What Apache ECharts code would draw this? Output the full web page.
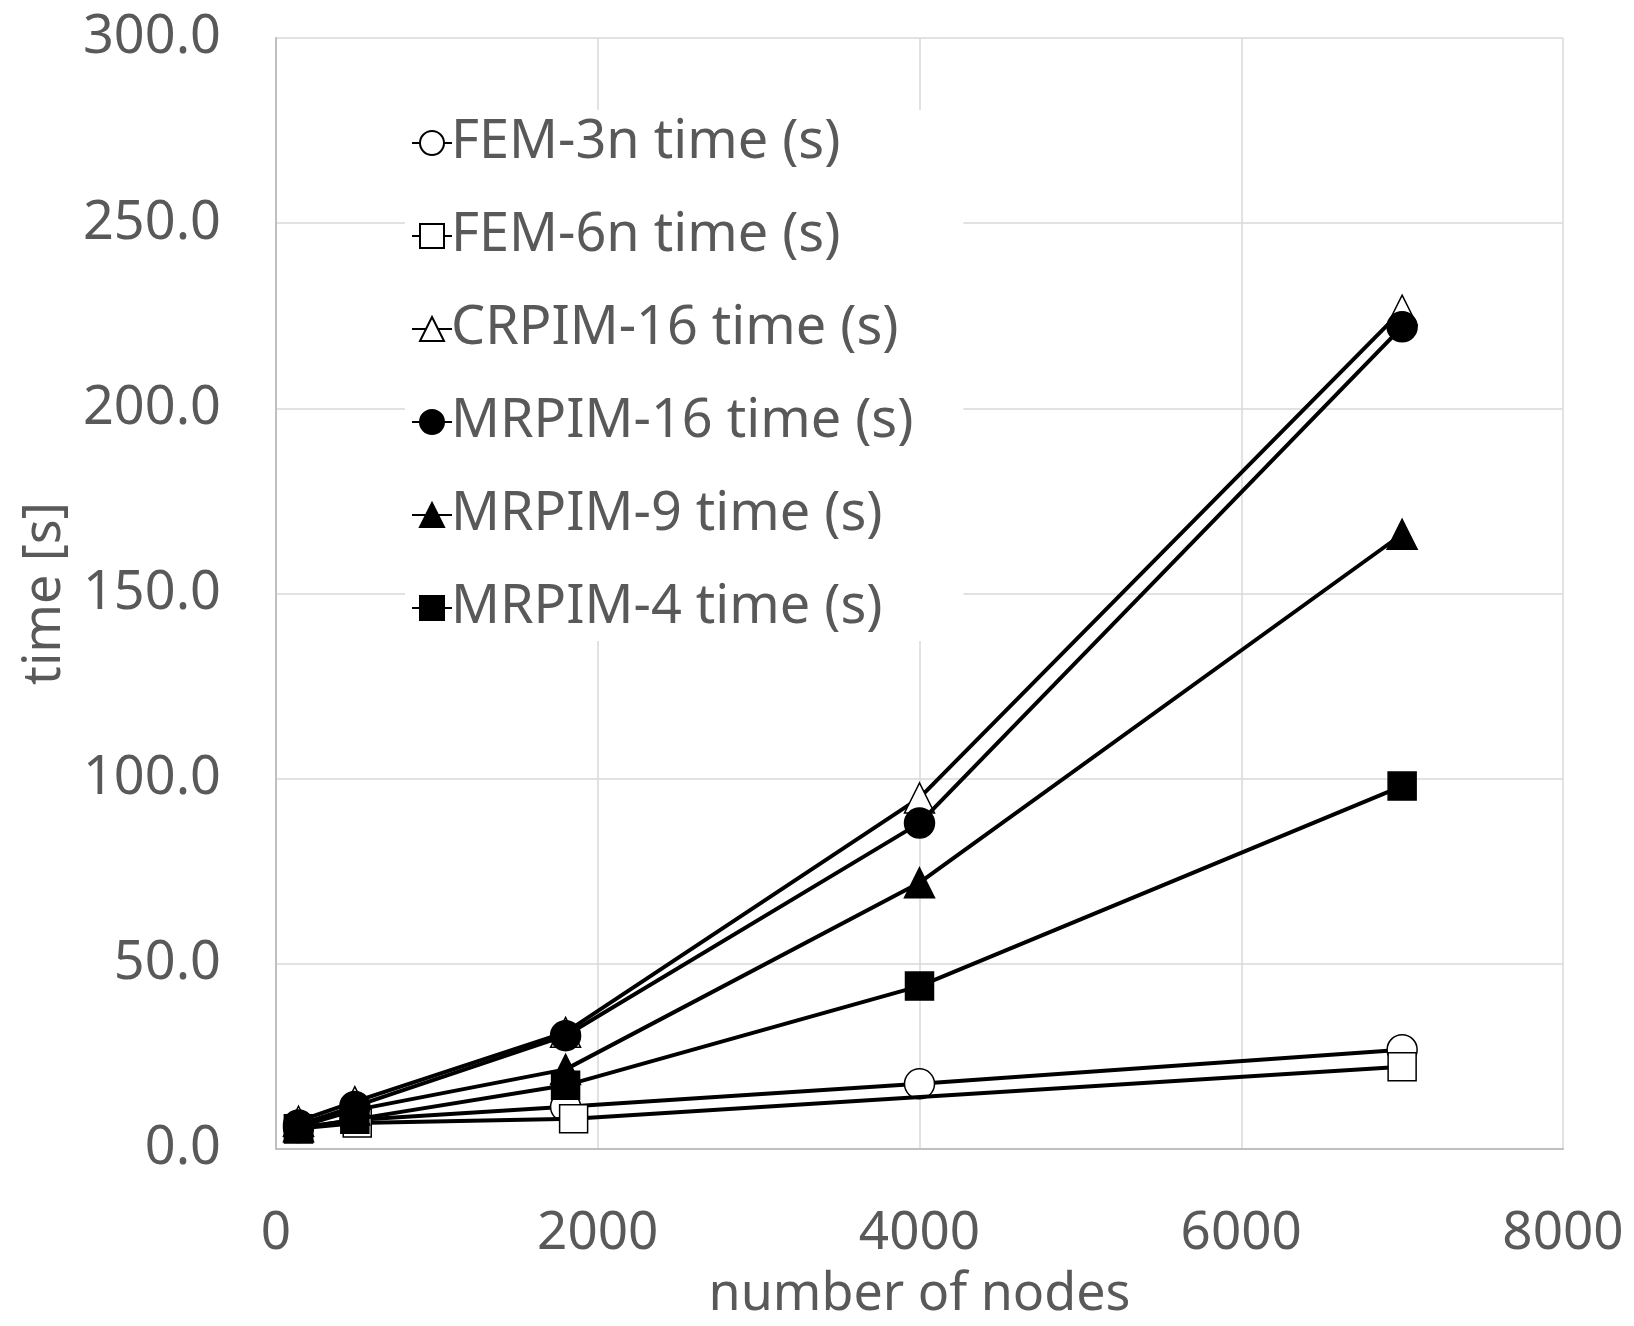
<!DOCTYPE html>
<html>
<head>
<meta charset="utf-8">
<script src="https://cdn.jsdelivr.net/npm/echarts@6/dist/echarts.min.js"></script>
<style>
html,body{margin:0;padding:0;background:#fff;}
#chart{width:1634px;height:1326px;}
</style>
</head>
<body>
<div id="chart"></div>
<script>
const seriesNames = ['FEM-3n time (s)','FEM-6n time (s)','CRPIM-16 time (s)','MRPIM-16 time (s)','MRPIM-9 time (s)','MRPIM-4 time (s)'];
const nodesMain = [140, 490, 1800, 4000, 7000];
const nodesFem6 = [140, 505, 1850, 7000];
const fem3n = [5.8, 7.8, 11.4, 17.6, 26.8];
const fem6n = [5.5, 7.0, 8.2, 22.2];
const crpim16 = [7.5, 12.8, 31.5, 94.8, 226.5];
const mrpim16 = [6.5, 11.5, 30.6, 88.0, 222.0];
const mrpim9 = [6.0, 10.5, 21.5, 71.9, 166.0];
const mrpim4 = [5.5, 8.0, 17.2, 44.0, 98.0];
const xTicks = [0, 2000, 4000, 6000, 8000];
const yTicks = [0, 50, 100, 150, 200, 250, 300];

const FONT = '"Noto Sans", "Open Sans", sans-serif';
const GRAY = '#595959';

function pairs(xs, ys){ return ys.map((v,i)=>[xs[i], v]); }

const styles = [
  {symbol:'circle', fill:'#ffffff', size:30},
  {symbol:'rect', fill:'#ffffff', size:28},
  {symbol:'triangle', fill:'#ffffff', size:30},
  {symbol:'circle', fill:'#000000', size:30},
  {symbol:'triangle', fill:'#000000', size:30},
  {symbol:'rect', fill:'#000000', size:28}
];
const datasets = [
  pairs(nodesMain, fem3n),
  pairs(nodesFem6, fem6n),
  pairs(nodesMain, crpim16),
  pairs(nodesMain, mrpim16),
  pairs(nodesMain, mrpim9),
  pairs(nodesMain, mrpim4)
];

const chart = echarts.init(document.getElementById('chart'));
chart.setOption({
  backgroundColor:'#ffffff',
  animation:false,
  grid:{left:276, right:71, top:38, bottom:169, containLabel:false},
  legend:{
    orient:'vertical', left:405, top:110,
    backgroundColor:'#ffffff',
    padding:[6,50,6,6],
    itemGap:39, itemWidth:40, itemHeight:30,
    textStyle:{fontSize:54, lineHeight:54, color:GRAY, fontFamily:FONT, padding:[0,0,0,-6]},
    data: seriesNames
  },
  xAxis:{
    type:'value', min:xTicks[0], max:xTicks[xTicks.length-1], interval:2000,
    name:'number of nodes', nameLocation:'middle', nameGap:120,
    nameTextStyle:{fontSize:52, color:GRAY, fontFamily:FONT},
    axisLine:{show:true, lineStyle:{color:'#bfbfbf', width:2}},
    axisTick:{show:false},
    axisLabel:{fontSize:53, color:GRAY, fontFamily:FONT, margin:58, formatter:v=>String(v)},
    splitLine:{show:true, lineStyle:{color:'#d9d9d9', width:1.5}}
  },
  yAxis:{
    type:'value', min:yTicks[0], max:yTicks[yTicks.length-1], interval:50,
    name:'time [s]', nameLocation:'middle', nameGap:205,
    nameTextStyle:{fontSize:52, color:GRAY, fontFamily:FONT},
    axisLine:{show:true, lineStyle:{color:'#bfbfbf', width:2}},
    axisTick:{show:false},
    axisLabel:{fontSize:54, color:GRAY, fontFamily:FONT, margin:55, formatter:v=>v.toFixed(1)},
    splitLine:{show:true, lineStyle:{color:'#d9d9d9', width:1.5}}
  },
  series: seriesNames.map((name,i)=>({
    name:name, type:'line', data:datasets[i],
    symbol:styles[i].symbol, symbolSize:styles[i].size,
    showAllSymbol:true,
    lineStyle:{color:'#000000', width:4},
    itemStyle:{color:styles[i].fill, borderColor:'#000000', borderWidth:1.5},
    z: 2+i
  }))
});
</script>
</body>
</html>
